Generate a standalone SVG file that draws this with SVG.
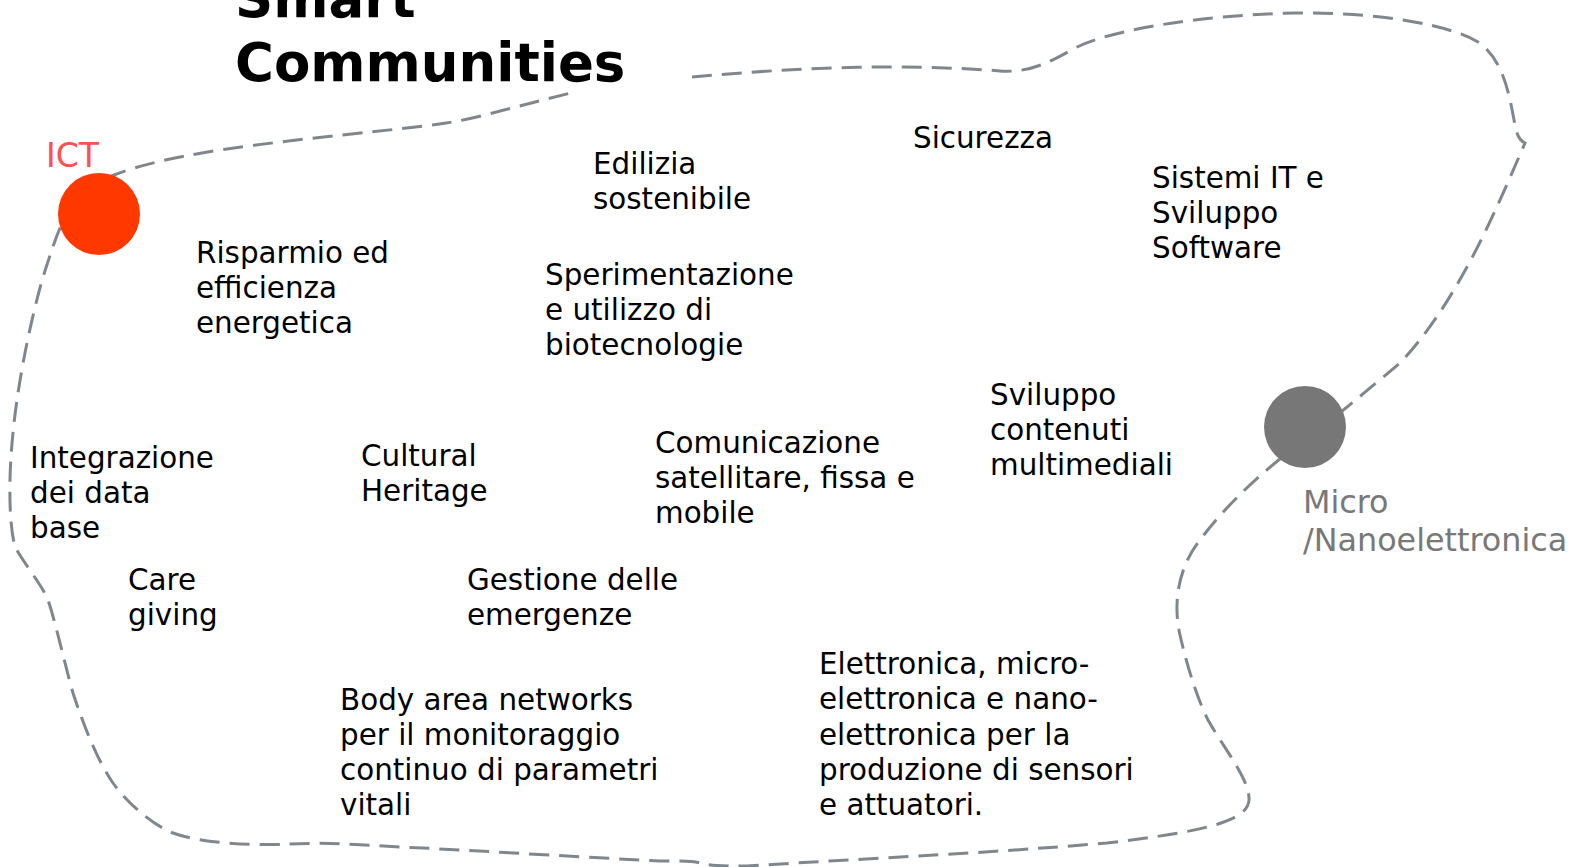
<svg xmlns="http://www.w3.org/2000/svg" width="1575" height="867" viewBox="0 0 1575 867">
<style>
.t{font-family:"DejaVu Sans","Verdana",sans-serif;font-size:29.4px;fill:#000}
.title{font-family:"DejaVu Sans","Verdana",sans-serif;font-size:53px;font-weight:bold;fill:#000}
.ict{font-family:"DejaVu Sans",sans-serif;font-size:33px;fill:#FF5050}
.micro{font-family:"DejaVu Sans",sans-serif;font-size:31.8px;fill:#787878}
.dash{fill:none;stroke:#7F878E;stroke-width:3;stroke-dasharray:20 10}
</style>
<rect width="1575" height="867" fill="#fff"/>
<g id="connectors">
<path class="dash" d="M692,77 C790,68 900,63 1000,71 C1030,73 1050,62 1075,48 C1110,30 1200,15 1296,13 C1380,12 1450,25 1478,42 C1505,60 1510,100 1515,125 C1517,135 1519,140 1525,143 C1500,200 1460,300 1400,363 C1370,388 1330,422 1305,440 C1270,465 1230,500 1200,540 C1180,565 1172,600 1180,635 C1188,670 1198,700 1208,720 C1225,750 1250,780 1249,800 C1248,822 1200,832 1107,843 C1000,852 900,857 813,862 L747,866 C725,866 710,866 700,863 C693,861 680,861 660,861 C560,856 450,849 400,847 C360,845 330,842 290,844 C250,846 200,843 173,833 C150,824 125,800 113,783 C100,765 85,730 73,693 C65,665 55,620 48,600 C42,585 25,565 15,547 C8,520 9,470 13,433 C17,390 28,330 43,277 C50,255 55,240 60,228 C75,195 95,182 114,175 C140,165 170,158 220,150 C300,138 400,130 446,123 C480,118 520,105 571,93"/>
</g>
<g id="title">
<text class="title" x="235" y="17">Smart</text>
<text class="title" x="235" y="81">Communities</text>
</g>
<g id="ict">
<circle cx="99" cy="214" r="41" fill="#FF3800"/>
<text class="ict" x="46" y="167">ICT</text>
</g>
<g id="micro">
<circle cx="1305" cy="427" r="41" fill="#777777"/>
<text class="micro" x="1303" y="513">Micro</text>
<text class="micro" x="1303" y="551">/Nanoelettronica</text>
</g>
<g id="edilizia"><text class="t" x="593" y="174">Edilizia</text><text class="t" x="593" y="209">sostenibile</text></g>
<g id="sicurezza"><text class="t" x="913" y="148">Sicurezza</text></g>
<g id="sistemi"><text class="t" x="1152" y="188">Sistemi IT e</text><text class="t" x="1152" y="223">Sviluppo</text><text class="t" x="1152" y="258">Software</text></g>
<g id="risparmio"><text class="t" x="196" y="263">Risparmio ed</text><text class="t" x="196" y="298">efficienza</text><text class="t" x="196" y="333">energetica</text></g>
<g id="sperimentazione"><text class="t" x="545" y="285">Sperimentazione</text><text class="t" x="545" y="320">e utilizzo di</text><text class="t" x="545" y="355">biotecnologie</text></g>
<g id="sviluppo"><text class="t" x="990" y="405">Sviluppo</text><text class="t" x="990" y="440">contenuti</text><text class="t" x="990" y="475">multimediali</text></g>
<g id="integrazione"><text class="t" x="30" y="468">Integrazione</text><text class="t" x="30" y="503">dei data</text><text class="t" x="30" y="538">base</text></g>
<g id="cultural"><text class="t" x="361" y="466">Cultural</text><text class="t" x="361" y="501">Heritage</text></g>
<g id="comunicazione"><text class="t" x="655" y="453">Comunicazione</text><text class="t" x="655" y="488">satellitare, fissa e</text><text class="t" x="655" y="523">mobile</text></g>
<g id="care"><text class="t" x="128" y="590">Care</text><text class="t" x="128" y="625">giving</text></g>
<g id="gestione"><text class="t" x="467" y="590">Gestione delle</text><text class="t" x="467" y="625">emergenze</text></g>
<g id="elettronica"><text class="t" x="819" y="674">Elettronica, micro-</text><text class="t" x="819" y="709">elettronica e nano-</text><text class="t" x="819" y="745">elettronica per la</text><text class="t" x="819" y="780">produzione di sensori</text><text class="t" x="819" y="815">e attuatori.</text></g>
<g id="body"><text class="t" x="340" y="710">Body area networks</text><text class="t" x="340" y="745">per il monitoraggio</text><text class="t" x="340" y="780">continuo di parametri</text><text class="t" x="340" y="815">vitali</text></g>
</svg>
